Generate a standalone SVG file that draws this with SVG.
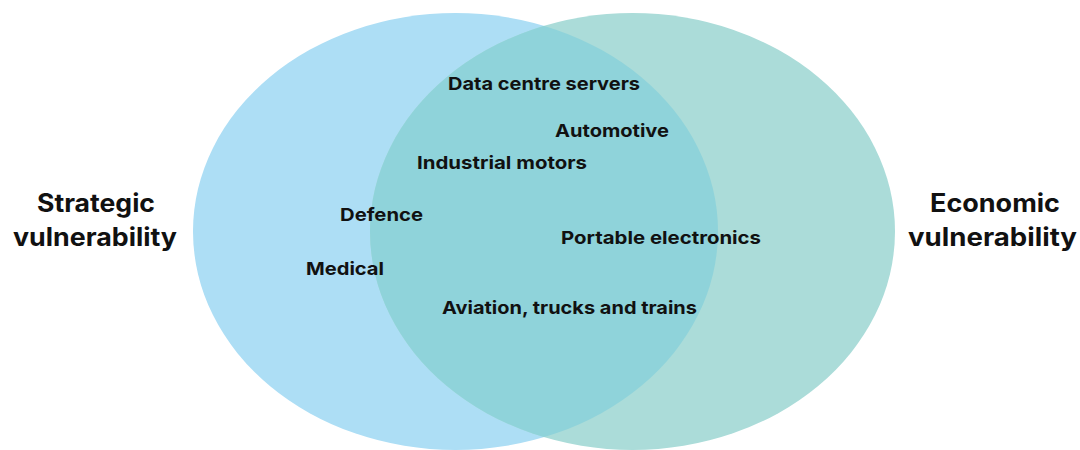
<svg xmlns="http://www.w3.org/2000/svg" width="1080" height="450" viewBox="0 0 1080 450">
<style>
.lbl{font-family:Inter,"Liberation Sans",sans-serif;font-weight:700;fill:#111;font-size:18px}
.big{font-family:Inter,"Liberation Sans",sans-serif;font-weight:700;fill:#111;font-size:25px}
</style>
<defs>
<clipPath id="clipL"><ellipse cx="455.5" cy="231.5" rx="262.5" ry="218.5"/></clipPath>
</defs>
<rect width="1080" height="450" fill="#ffffff"/>
<g id="strategic">
<ellipse cx="455.5" cy="231.5" rx="262.5" ry="218.5" fill="#ADDEF5"/>
</g>
<g id="economic">
<ellipse cx="632.5" cy="231.5" rx="262.5" ry="218.5" fill="#ABDCD9"/>
</g>
<g id="overlap">
<ellipse cx="632.5" cy="231.5" rx="262.5" ry="218.5" fill="#8FD3DA" clip-path="url(#clipL)"/>
</g>
<g id="connectors"></g>
<g id="labels">
<text class="lbl" x="448" y="90" textLength="192" lengthAdjust="spacingAndGlyphs">Data centre servers</text>
<text class="lbl" x="555" y="137" textLength="114" lengthAdjust="spacingAndGlyphs">Automotive</text>
<text class="lbl" x="417" y="169" textLength="170" lengthAdjust="spacingAndGlyphs">Industrial motors</text>
<text class="lbl" x="340" y="221" textLength="83" lengthAdjust="spacingAndGlyphs">Defence</text>
<text class="lbl" x="561" y="244" textLength="200" lengthAdjust="spacingAndGlyphs">Portable electronics</text>
<text class="lbl" x="306" y="275" textLength="78" lengthAdjust="spacingAndGlyphs">Medical</text>
<text class="lbl" x="442" y="314" textLength="255" lengthAdjust="spacingAndGlyphs">Aviation, trucks and trains</text>
</g>
<g id="titles">
<text class="big" x="37" y="212" textLength="118" lengthAdjust="spacingAndGlyphs">Strategic</text>
<text class="big" x="13" y="246" textLength="164" lengthAdjust="spacingAndGlyphs">vulnerability</text>
<text class="big" x="930" y="212" textLength="130" lengthAdjust="spacingAndGlyphs">Economic</text>
<text class="big" x="908" y="246" textLength="169" lengthAdjust="spacingAndGlyphs">vulnerability</text>
</g>
</svg>
